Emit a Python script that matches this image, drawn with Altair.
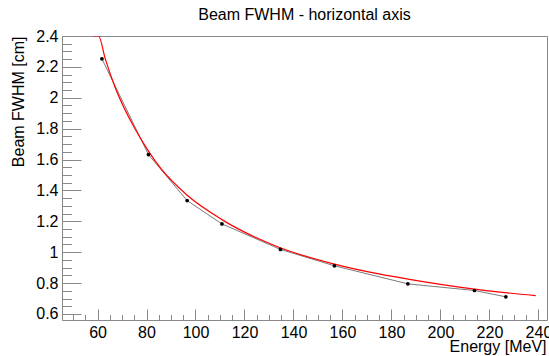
import altair as alt
import pandas as pd

energy = [61.8, 80.8, 96.6, 110.8, 134.7, 156.7, 186.7, 213.9, 226.7]
fwhm = [2.252, 1.632, 1.334, 1.183, 1.018, 0.912, 0.795, 0.752, 0.711]

fit_energy = [58.5, 60.4, 63.2, 67.2, 75.4, 80.8, 85.6, 96.5, 110.8, 133.2,
              156.7, 175.3, 186.7, 213.9, 224.4, 238.9]
fit_fwhm = [2.4, 2.4, 2.25, 2.067, 1.796, 1.655, 1.547, 1.370, 1.211, 1.037,
            0.923, 0.858, 0.826, 0.761, 0.741, 0.719]

x_major = [60, 80, 100, 120, 140, 160, 180, 200, 220, 240]
x_minor = [50 + 5 * i for i in range(39)]
y_major = [0.6, 0.8, 1.0, 1.2, 1.4, 1.6, 1.8, 2.0, 2.2, 2.4]
y_minor = [round(0.6 + 0.05 * i, 2) for i in range(37)]

X_DOMAIN = [45.5, 243.5]
Y_DOMAIN = [0.561, 2.4]
FONT = "Liberation Sans"
TICK = "#888888"

pts = pd.DataFrame({"E": energy, "W": fwhm})
fit = pd.DataFrame({"E": fit_energy, "W": fit_fwhm})

xs = alt.Scale(domain=X_DOMAIN, nice=False, zero=False)
ys = alt.Scale(domain=Y_DOMAIN, nice=False, zero=False)


def xaxis(kind):
    common = dict(orient="bottom", grid=False, domain=False)
    if kind == "labels":
        return alt.Axis(values=x_major, ticks=False, tickSize=0, labels=True,
                        labelFont=FONT, labelFontSize=16, labelColor="black",
                        labelPadding=4, title="Energy [MeV]", titleFont=FONT,
                        titleFontSize=16, titleFontWeight="normal", titleColor="black",
                        titleAnchor="end", titleAlign="right", titleX=484,
                        titleY=31, titleBaseline="alphabetic", **common)
    if kind == "major":
        return alt.Axis(values=x_major, ticks=True, tickSize=11, tickColor=TICK,
                        offset=-11, labels=False, title=None, **common)
    return alt.Axis(values=x_minor, ticks=True, tickSize=5.5, tickColor=TICK,
                    offset=-5.5, labels=False, title=None, **common)


def yaxis(kind):
    common = dict(orient="left", grid=False, domain=False)
    if kind == "labels":
        return alt.Axis(values=y_major, ticks=False, tickSize=0, labels=True,
                        format=".1~f", labelFont=FONT, labelFontSize=16,
                        labelColor="black", labelPadding=4,
                        title="Beam FWHM [cm]", titleFont=FONT, titleFontSize=16,
                        titleFontWeight="normal", titleColor="black",
                        titleAngle=270, titleAlign="right", titleAnchor="end",
                        titleBaseline="alphabetic", titleX=-39, titleY=0, **common)
    if kind == "major":
        return alt.Axis(values=y_major, ticks=True, tickSize=19, tickColor=TICK,
                        offset=-19, labels=False, title=None, **common)
    return alt.Axis(values=y_minor, ticks=True, tickSize=9.5, tickColor=TICK,
                    offset=-9.5, labels=False, title=None, **common)


line = alt.Chart(pts).mark_line(color="#7a7a7a", strokeWidth=1).encode(
    x=alt.X("E:Q", scale=xs, axis=xaxis("labels")),
    y=alt.Y("W:Q", scale=ys, axis=yaxis("labels")),
)
points = alt.Chart(pts).mark_point(filled=True, color="black", size=14, opacity=1).encode(
    x=alt.X("E:Q", scale=xs, axis=xaxis("major")),
    y=alt.Y("W:Q", scale=ys, axis=yaxis("major")),
)
fitline = alt.Chart(fit).mark_line(color="#ff0000", strokeWidth=1.2,
                                   interpolate="monotone", clip=True).encode(
    x=alt.X("E:Q", scale=xs, axis=xaxis("minor")),
    y=alt.Y("W:Q", scale=ys, axis=yaxis("minor")),
)

chart = alt.layer(line, fitline, points).resolve_axis(
    x="independent", y="independent"
).properties(
    width=485,
    height=284,
    autosize=alt.AutoSizeParams(type="none"),
    padding={"left": 62, "top": 36, "right": 2, "bottom": 36},
    background="white",
    title=alt.TitleParams("Beam FWHM - horizontal axis", font=FONT, fontSize=16,
                          fontWeight="normal", color="black", anchor="middle",
                          baseline="alphabetic", offset=8, dy=15.5),
).configure_view(stroke=TICK, strokeWidth=1)

chart.save("out.html", embed_options={"renderer": "svg", "actions": False})
